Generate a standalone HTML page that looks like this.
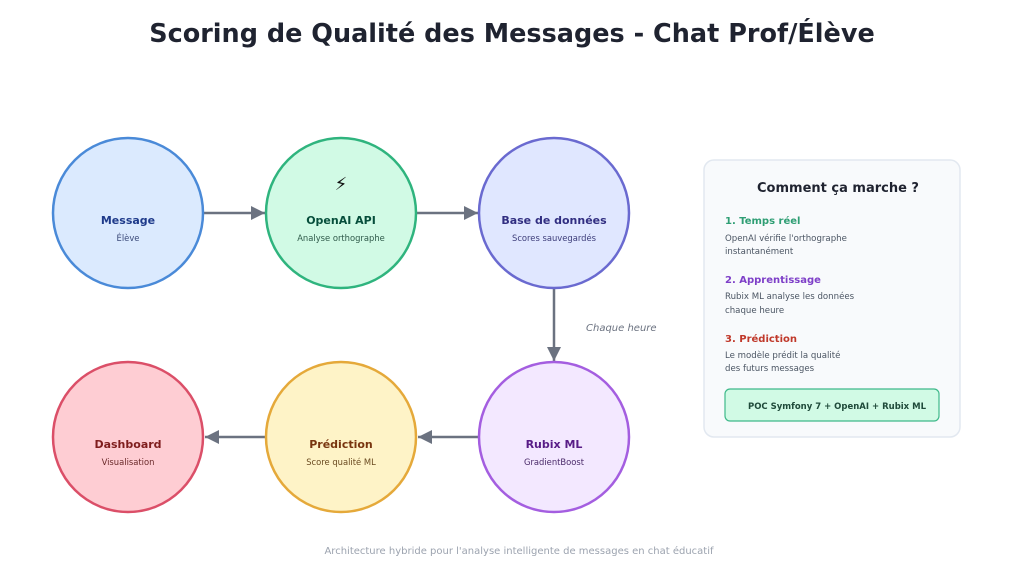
<!DOCTYPE html>
<html><head><meta charset="utf-8"><style>
html,body{margin:0;padding:0;background:#fff}
svg{display:block;font-family:"DejaVu Sans","Liberation Sans",sans-serif}
</style></head><body>
<svg width="1024" height="576" viewBox="0 0 1024 576">
<defs>
<marker id="ah" viewBox="0 0 10 10" markerWidth="16" markerHeight="14" refX="10" refY="5" orient="auto" markerUnits="userSpaceOnUse"><path d="M0,0 L10,5 L0,10 z" fill="#6b7280"/></marker></defs>
<text x="512" y="42" text-anchor="middle" font-size="25.5" font-weight="bold" fill="#1f2330">Scoring de Qualité des Messages - Chat Prof/Élève</text>

<g stroke="#6b7280" stroke-width="2.5" fill="none" marker-end="url(#ah)">
<line x1="204" y1="213" x2="265" y2="213"/>
<line x1="417" y1="213" x2="478" y2="213"/>
<line x1="554" y1="289" x2="554" y2="361"/>
<line x1="479" y1="437" x2="418" y2="437"/>
<line x1="266" y1="437" x2="205" y2="437"/>
</g>
<text x="586" y="331" font-size="10" font-style="italic" fill="#6b7280">Chaque heure</text>

<g stroke-width="2.5">
<circle cx="128" cy="213" r="75" fill="#dbeafe" stroke="#4a8ad8"/>
<circle cx="341" cy="213" r="75" fill="#d1fae5" stroke="#2fb47e"/>
<circle cx="554" cy="213" r="75" fill="#e0e7ff" stroke="#6a6ad0"/>
<circle cx="128" cy="437" r="75" fill="#fecdd3" stroke="#db4f68"/>
<circle cx="341" cy="437" r="75" fill="#fef3c7" stroke="#e5a93a"/>
<circle cx="554" cy="437" r="75" fill="#f3e8ff" stroke="#a45ee0"/>
</g>
<g text-anchor="middle">
<text x="341" y="190" font-size="18" fill="#111">⚡</text>
<text x="128" y="224" font-size="11" font-weight="bold" fill="#1e3a8a">Message</text>
<text x="128" y="241" font-size="8.4" fill="#3b4a7a">Élève</text>
<text x="341" y="224" font-size="11" font-weight="bold" fill="#064e3b">OpenAI API</text>
<text x="341" y="241" font-size="8.4" fill="#2f5a4a">Analyse orthographe</text>
<text x="554" y="224" font-size="11" font-weight="bold" fill="#312e81">Base de données</text>
<text x="554" y="241" font-size="8.4" fill="#3d3d7a">Scores sauvegardés</text>
<text x="128" y="448" font-size="11" font-weight="bold" fill="#7f1d1d">Dashboard</text>
<text x="128" y="465" font-size="8.4" fill="#6a2a2a">Visualisation</text>
<text x="341" y="448" font-size="11" font-weight="bold" fill="#78350f">Prédiction</text>
<text x="341" y="465" font-size="8.4" fill="#6a4a20">Score qualité ML</text>
<text x="554" y="448" font-size="11" font-weight="bold" fill="#581c87">Rubix ML</text>
<text x="554" y="465" font-size="8.4" fill="#4a2a6a">GradientBoost</text>
</g>

<rect x="704" y="160" width="256" height="277" rx="10" fill="#f8fafc" stroke="#e2e8f0" stroke-width="1.5"/>
<text x="838" y="192" text-anchor="middle" font-size="13" font-weight="bold" fill="#1f2330">Comment ça marche ?</text>
<text x="725" y="224" font-size="10" font-weight="bold" fill="#2f9e74">1. Temps réel</text>
<text x="725" y="241" font-size="8.6" fill="#4b5563">OpenAI vérifie l'orthographe</text>
<text x="725" y="254" font-size="8.6" fill="#4b5563">instantanément</text>
<text x="725" y="283" font-size="10" font-weight="bold" fill="#7e3fc8">2. Apprentissage</text>
<text x="725" y="299" font-size="8.6" fill="#4b5563">Rubix ML analyse les données</text>
<text x="725" y="313" font-size="8.6" fill="#4b5563">chaque heure</text>
<text x="725" y="342" font-size="10" font-weight="bold" fill="#c0392b">3. Prédiction</text>
<text x="725" y="358" font-size="8.6" fill="#4b5563">Le modèle prédit la qualité</text>
<text x="725" y="371" font-size="8.6" fill="#4b5563">des futurs messages</text>
<rect x="725" y="389" width="214" height="32" rx="5" fill="#d1fae5" stroke="#3fb98a" stroke-width="1.2"/>
<text x="837" y="409" text-anchor="middle" font-size="8.5" font-weight="bold" fill="#1f4a3a">POC Symfony 7 + OpenAI + Rubix ML</text>

<text x="519" y="554" text-anchor="middle" font-size="10" fill="#9ca3af">Architecture hybride pour l'analyse intelligente de messages en chat éducatif</text>
</svg>
</body></html>
